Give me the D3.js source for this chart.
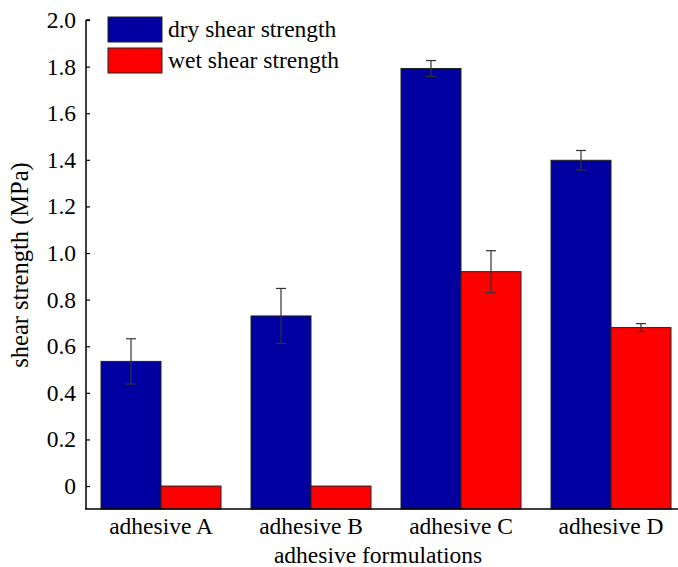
<!DOCTYPE html>
<html>
<head>
<meta charset="utf-8">
<script src="https://cdn.jsdelivr.net/npm/d3@7"></script>
<style>
  body { margin: 0; background: #fff; }
  svg text { font-family: 'Liberation Serif', 'Times New Roman', Times, serif; fill: #000; font-size: 23.5px; }
</style>
</head>
<body>
<svg id="chart" width="678" height="567"></svg>
<script>
// data
const categories = ['adhesive A', 'adhesive B', 'adhesive C', 'adhesive D'];
const series = ['dry shear strength', 'wet shear strength'];
const dryValues = [0.535, 0.730, 1.792, 1.398];
const dryErrors = [0.097, 0.118, 0.034, 0.042];
const wetValues = [0, 0, 0.920, 0.680];
const wetErrors = [0, 0, 0.090, 0.017];
const yTicks = [0, 0.2, 0.4, 0.6, 0.8, 1.0, 1.2, 1.4, 1.6, 1.8, 2.0];
const colors = ['#0000a0', '#ff0000'];

let width = 678, height = 567;
let margin = { left: 86, top: 20, bottom: 509 };

let svg = d3.select('#chart');

let x = d3.scaleBand()
    .domain(categories)
    .range([margin.left, margin.left + 600])
    .paddingInner(0.2)
    .paddingOuter(0.1);

let xSub = d3.scaleBand()
    .domain(series)
    .range([0, x.bandwidth()]);

let y = d3.scaleLinear()
    .domain([-0.0985, 2.0])
    .range([margin.bottom, margin.top]);

// rows for the bars
let rows = [];
categories.forEach((c, i) => {
    rows.push({ cat: c, s: series[0], v: dryValues[i], e: dryErrors[i], col: colors[0] });
    rows.push({ cat: c, s: series[1], v: wetValues[i], e: wetErrors[i], col: colors[1] });
});

svg.selectAll('rect.bar')
    .data(rows)
    .enter().append('rect')
    .attr('class', 'bar')
    .attr('x', d => x(d.cat) + xSub(d.s))
    .attr('width', xSub.bandwidth())
    .attr('y', d => y(d.v))
    .attr('height', d => y.range()[0] - y(d.v))
    .style('fill', d => d.col)
    .style('stroke', '#222')
    .style('stroke-width', 1);

// error bars
let err = svg.selectAll('g.err')
    .data(rows.filter(d => d.e > 0))
    .enter().append('g')
    .attr('class', 'err')
    .style('stroke', '#333')
    .style('stroke-width', 1.2);

err.append('line')
    .attr('x1', d => x(d.cat) + xSub(d.s) + xSub.bandwidth() / 2)
    .attr('x2', d => x(d.cat) + xSub(d.s) + xSub.bandwidth() / 2)
    .attr('y1', d => y(d.v + d.e))
    .attr('y2', d => y(d.v - d.e));

[1, -1].forEach(sign => {
    err.append('line')
        .attr('x1', d => x(d.cat) + xSub(d.s) + xSub.bandwidth() / 2 - 5)
        .attr('x2', d => x(d.cat) + xSub(d.s) + xSub.bandwidth() / 2 + 5)
        .attr('y1', d => y(d.v + sign * d.e))
        .attr('y2', d => y(d.v + sign * d.e));
});

// y axis, ticks pointing inward
let yAxis = svg.append('g')
    .attr('transform', `translate(${margin.left},0)`)
    .call(d3.axisRight(y).tickValues(yTicks).tickSize(4).tickSizeOuter(0)
        .tickFormat(d => d === 0 ? '0' : d3.format('.1f')(d)));
yAxis.attr('font-family', null).attr('font-size', null);
yAxis.select('.domain').attr('d', `M0,${y(2.0)}H4M0,${y(2.0)}V${margin.bottom}`)
    .style('stroke', '#000').style('stroke-width', 1.5);
yAxis.selectAll('.tick line').style('stroke', '#000').style('stroke-width', 1.2);
yAxis.selectAll('.tick text')
    .attr('x', -10)
    .attr('text-anchor', 'end');

// x axis
let xAxis = svg.append('g')
    .attr('transform', `translate(0,${margin.bottom})`)
    .call(d3.axisBottom(x).tickSize(0).tickSizeOuter(0));
xAxis.attr('font-family', null).attr('font-size', null);
xAxis.select('.domain').attr('d', `M${margin.left - 1},0H${width}`)
    .style('stroke', '#000').style('stroke-width', 1.5);
xAxis.selectAll('.tick text')
    .attr('dy', null)
    .attr('y', 25);

// axis titles
svg.append('text')
    .attr('x', 378)
    .attr('y', 563)
    .attr('text-anchor', 'middle')
    .text('adhesive formulations');

svg.append('text')
    .attr('transform', `translate(28,265) rotate(-90)`)
    .attr('text-anchor', 'middle')
    .style('font-size', '24.5px')
    .text('shear strength (MPa)');

// legend
let legend = svg.selectAll('g.legend')
    .data(series)
    .enter().append('g')
    .attr('class', 'legend')
    .attr('transform', (d, i) => `translate(108,${17 + i * 31})`);

legend.append('rect')
    .attr('width', 54)
    .attr('height', 25)
    .style('fill', (d, i) => colors[i])
    .style('stroke', '#222')
    .style('stroke-width', 1);

legend.append('text')
    .attr('x', 60)
    .attr('y', 20)
    .text(d => d);
</script>
</body>
</html>
